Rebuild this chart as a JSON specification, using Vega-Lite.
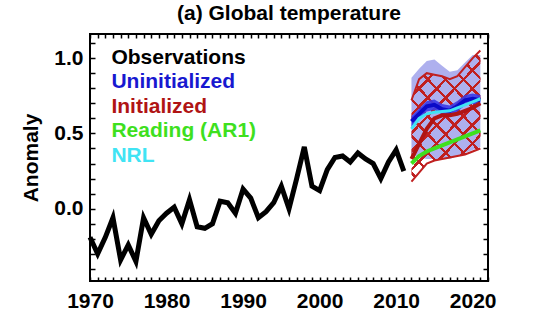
{
  "$schema": "https://vega.github.io/schema/vega-lite/v6.json",
  "width": 398,
  "height": 247,
  "autosize": {"type": "none"},
  "padding": {"left": 90, "top": 34, "right": 52, "bottom": 47},
  "title": {"text": "(a) Global temperature", "font": "Liberation Sans", "fontSize": 21, "fontWeight": "bold", "color": "black", "offset": 8, "anchor": "middle"},
  "config": {
    "view": {"stroke": "black", "strokeWidth": 2},
    "axis": {"grid": false, "domain": false, "labelFont": "Liberation Sans", "labelFontWeight": "bold", "labelFontSize": 21, "labelColor": "black", "tickColor": "black", "tickWidth": 1.5, "titleFont": "Liberation Sans", "titleFontWeight": "bold", "titleFontSize": 21, "titleColor": "black"}
  },
  "datasets": {
    "obs": [
      {"year": 1970, "v": -0.19}, {"year": 1971, "v": -0.30}, {"year": 1972, "v": -0.19}, {"year": 1973, "v": -0.06},
      {"year": 1974, "v": -0.34}, {"year": 1975, "v": -0.24}, {"year": 1976, "v": -0.35}, {"year": 1977, "v": -0.06},
      {"year": 1978, "v": -0.17}, {"year": 1979, "v": -0.08}, {"year": 1980, "v": -0.03}, {"year": 1981, "v": 0.01},
      {"year": 1982, "v": -0.10}, {"year": 1983, "v": 0.06}, {"year": 1984, "v": -0.12}, {"year": 1985, "v": -0.13},
      {"year": 1986, "v": -0.10}, {"year": 1987, "v": 0.05}, {"year": 1988, "v": 0.04}, {"year": 1989, "v": -0.03},
      {"year": 1990, "v": 0.13}, {"year": 1991, "v": 0.07}, {"year": 1992, "v": -0.06}, {"year": 1993, "v": -0.02},
      {"year": 1994, "v": 0.04}, {"year": 1995, "v": 0.15}, {"year": 1996, "v": 0.00}, {"year": 1997, "v": 0.20},
      {"year": 1998, "v": 0.41}, {"year": 1999, "v": 0.15}, {"year": 2000, "v": 0.12}, {"year": 2001, "v": 0.26},
      {"year": 2002, "v": 0.34}, {"year": 2003, "v": 0.35}, {"year": 2004, "v": 0.31}, {"year": 2005, "v": 0.37},
      {"year": 2006, "v": 0.33}, {"year": 2007, "v": 0.30}, {"year": 2008, "v": 0.20}, {"year": 2009, "v": 0.31},
      {"year": 2010, "v": 0.39}, {"year": 2011, "v": 0.25}
    ],
    "fc": [
      {"year": 2012, "ulo": 0.36, "uhi": 0.87, "ilo": 0.18, "ihi": 0.72, "unin": 0.58, "ubl": 0.545, "ubh": 0.615, "init": 0.33, "reading": 0.30, "nrl": 0.53},
      {"year": 2013, "ulo": 0.34, "uhi": 0.93, "ilo": 0.24, "ihi": 0.86, "unin": 0.63, "ubl": 0.595, "ubh": 0.665, "init": 0.43, "reading": 0.35, "nrl": 0.60},
      {"year": 2014, "ulo": 0.33, "uhi": 0.98, "ilo": 0.30, "ihi": 0.90, "unin": 0.68, "ubl": 0.645, "ubh": 0.715, "init": 0.53, "reading": 0.38, "nrl": 0.63},
      {"year": 2015, "ulo": 0.33, "uhi": 0.99, "ilo": 0.32, "ihi": 0.89, "unin": 0.69, "ubl": 0.655, "ubh": 0.725, "init": 0.60, "reading": 0.40, "nrl": 0.64},
      {"year": 2016, "ulo": 0.33, "uhi": 0.95, "ilo": 0.33, "ihi": 0.88, "unin": 0.66, "ubl": 0.625, "ubh": 0.695, "init": 0.62, "reading": 0.42, "nrl": 0.645},
      {"year": 2017, "ulo": 0.33, "uhi": 0.91, "ilo": 0.34, "ihi": 0.86, "unin": 0.65, "ubl": 0.615, "ubh": 0.685, "init": 0.62, "reading": 0.44, "nrl": 0.65},
      {"year": 2018, "ulo": 0.35, "uhi": 0.92, "ilo": 0.35, "ihi": 0.88, "unin": 0.68, "ubl": 0.645, "ubh": 0.715, "init": 0.63, "reading": 0.46, "nrl": 0.67},
      {"year": 2019, "ulo": 0.37, "uhi": 0.97, "ilo": 0.36, "ihi": 0.94, "unin": 0.72, "ubl": 0.685, "ubh": 0.755, "init": 0.65, "reading": 0.48, "nrl": 0.69},
      {"year": 2020, "ulo": 0.39, "uhi": 1.02, "ilo": 0.38, "ihi": 1.00, "unin": 0.73, "ubl": 0.695, "ubh": 0.765, "init": 0.67, "reading": 0.50, "nrl": 0.71},
      {"year": 2021, "ulo": 0.41, "uhi": 1.02, "ilo": 0.40, "ihi": 1.05, "unin": 0.72, "ubl": 0.685, "ubh": 0.755, "init": 0.70, "reading": 0.52, "nrl": 0.73}
    ],
    "labels": [
      {"label": "Observations", "x": 1972.8, "y": 1.0},
      {"label": "Uninitialized", "x": 1972.8, "y": 0.84},
      {"label": "Initialized", "x": 1972.8, "y": 0.677},
      {"label": "Reading (AR1)", "x": 1972.8, "y": 0.515},
      {"label": "NRL", "x": 1972.8, "y": 0.35}
    ]
  },
  "resolve": {"axis": {"x": "independent", "y": "independent"}},
  "layer": [
    {
      "data": {"name": "fc"},
      "mark": {"type": "area", "color": "#aeb0ee", "opacity": 1},
      "encoding": {
        "x": {"field": "year", "type": "quantitative", "scale": {"domain": [1970, 2022], "nice": false, "zero": false},
              "axis": {"orient": "bottom", "title": null, "values": [1970,1971,1972,1973,1974,1975,1976,1977,1978,1979,1980,1981,1982,1983,1984,1985,1986,1987,1988,1989,1990,1991,1992,1993,1994,1995,1996,1997,1998,1999,2000,2001,2002,2003,2004,2005,2006,2007,2008,2009,2010,2011,2012,2013,2014,2015,2016,2017,2018,2019,2020,2021,2022],
                       "labelExpr": "datum.value % 10 === 0 ? datum.value : ''", "tickSize": -4, "labelPadding": 13, "labelFlush": false, "labelOverlap": false}},
        "y": {"field": "ulo", "type": "quantitative", "scale": {"domain": [-0.48, 1.16], "nice": false, "zero": false},
              "axis": {"orient": "left", "title": "Anomaly", "titlePadding": 12, "values": [-0.4,-0.3,-0.2,-0.1,0,0.1,0.2,0.3,0.4,0.5,0.6,0.7,0.8,0.9,1.0,1.1],
                       "labelExpr": "abs(datum.value*2 - round(datum.value*2)) < 0.001 ? format(datum.value, '.1f') : ''", "tickSize": -5, "labelPadding": 12, "labelOverlap": false, "labelFlush": false}},
        "y2": {"field": "uhi"}
      }
    },
    {
      "data": {"name": "fc"},
      "mark": {"type": "area", "fill": {"gradient": "linear", "x1": 0, "y1": 0, "x2": 0.644, "y2": 1.192, "stops": [
        {"offset": 0, "color": "rgba(192,32,32,0)"},
        {"offset": 0.035, "color": "rgba(192,32,32,0)"}, {"offset": 0.035, "color": "#c02020"}, {"offset": 0.053, "color": "#c02020"}, {"offset": 0.053, "color": "rgba(192,32,32,0)"},
        {"offset": 0.126, "color": "rgba(192,32,32,0)"}, {"offset": 0.126, "color": "#c02020"}, {"offset": 0.144, "color": "#c02020"}, {"offset": 0.144, "color": "rgba(192,32,32,0)"},
        {"offset": 0.217, "color": "rgba(192,32,32,0)"}, {"offset": 0.217, "color": "#c02020"}, {"offset": 0.235, "color": "#c02020"}, {"offset": 0.235, "color": "rgba(192,32,32,0)"},
        {"offset": 0.308, "color": "rgba(192,32,32,0)"}, {"offset": 0.308, "color": "#c02020"}, {"offset": 0.326, "color": "#c02020"}, {"offset": 0.326, "color": "rgba(192,32,32,0)"},
        {"offset": 0.399, "color": "rgba(192,32,32,0)"}, {"offset": 0.399, "color": "#c02020"}, {"offset": 0.417, "color": "#c02020"}, {"offset": 0.417, "color": "rgba(192,32,32,0)"},
        {"offset": 0.490, "color": "rgba(192,32,32,0)"}, {"offset": 0.490, "color": "#c02020"}, {"offset": 0.508, "color": "#c02020"}, {"offset": 0.508, "color": "rgba(192,32,32,0)"},
        {"offset": 0.580, "color": "rgba(192,32,32,0)"}, {"offset": 0.580, "color": "#c02020"}, {"offset": 0.598, "color": "#c02020"}, {"offset": 0.598, "color": "rgba(192,32,32,0)"},
        {"offset": 0.671, "color": "rgba(192,32,32,0)"}, {"offset": 0.671, "color": "#c02020"}, {"offset": 0.689, "color": "#c02020"}, {"offset": 0.689, "color": "rgba(192,32,32,0)"},
        {"offset": 0.762, "color": "rgba(192,32,32,0)"}, {"offset": 0.762, "color": "#c02020"}, {"offset": 0.780, "color": "#c02020"}, {"offset": 0.780, "color": "rgba(192,32,32,0)"},
        {"offset": 0.853, "color": "rgba(192,32,32,0)"}, {"offset": 0.853, "color": "#c02020"}, {"offset": 0.871, "color": "#c02020"}, {"offset": 0.871, "color": "rgba(192,32,32,0)"},
        {"offset": 0.944, "color": "rgba(192,32,32,0)"}, {"offset": 0.944, "color": "#c02020"}, {"offset": 0.962, "color": "#c02020"}, {"offset": 0.962, "color": "rgba(192,32,32,0)"},
        {"offset": 1, "color": "rgba(192,32,32,0)"}
      ]}},
      "encoding": {
        "x": {"field": "year", "type": "quantitative", "axis": null},
        "y": {"field": "ilo", "type": "quantitative", "axis": null},
        "y2": {"field": "ihi"}
      }
    },
    {
      "data": {"name": "fc"},
      "mark": {"type": "area", "fill": {"gradient": "linear", "x1": 0, "y1": 1, "x2": 0.644, "y2": -0.192, "stops": [
        {"offset": 0, "color": "rgba(192,32,32,0)"},
        {"offset": 0.035, "color": "rgba(192,32,32,0)"}, {"offset": 0.035, "color": "#c02020"}, {"offset": 0.053, "color": "#c02020"}, {"offset": 0.053, "color": "rgba(192,32,32,0)"},
        {"offset": 0.126, "color": "rgba(192,32,32,0)"}, {"offset": 0.126, "color": "#c02020"}, {"offset": 0.144, "color": "#c02020"}, {"offset": 0.144, "color": "rgba(192,32,32,0)"},
        {"offset": 0.217, "color": "rgba(192,32,32,0)"}, {"offset": 0.217, "color": "#c02020"}, {"offset": 0.235, "color": "#c02020"}, {"offset": 0.235, "color": "rgba(192,32,32,0)"},
        {"offset": 0.308, "color": "rgba(192,32,32,0)"}, {"offset": 0.308, "color": "#c02020"}, {"offset": 0.326, "color": "#c02020"}, {"offset": 0.326, "color": "rgba(192,32,32,0)"},
        {"offset": 0.399, "color": "rgba(192,32,32,0)"}, {"offset": 0.399, "color": "#c02020"}, {"offset": 0.417, "color": "#c02020"}, {"offset": 0.417, "color": "rgba(192,32,32,0)"},
        {"offset": 0.490, "color": "rgba(192,32,32,0)"}, {"offset": 0.490, "color": "#c02020"}, {"offset": 0.508, "color": "#c02020"}, {"offset": 0.508, "color": "rgba(192,32,32,0)"},
        {"offset": 0.580, "color": "rgba(192,32,32,0)"}, {"offset": 0.580, "color": "#c02020"}, {"offset": 0.598, "color": "#c02020"}, {"offset": 0.598, "color": "rgba(192,32,32,0)"},
        {"offset": 0.671, "color": "rgba(192,32,32,0)"}, {"offset": 0.671, "color": "#c02020"}, {"offset": 0.689, "color": "#c02020"}, {"offset": 0.689, "color": "rgba(192,32,32,0)"},
        {"offset": 0.762, "color": "rgba(192,32,32,0)"}, {"offset": 0.762, "color": "#c02020"}, {"offset": 0.780, "color": "#c02020"}, {"offset": 0.780, "color": "rgba(192,32,32,0)"},
        {"offset": 0.853, "color": "rgba(192,32,32,0)"}, {"offset": 0.853, "color": "#c02020"}, {"offset": 0.871, "color": "#c02020"}, {"offset": 0.871, "color": "rgba(192,32,32,0)"},
        {"offset": 0.944, "color": "rgba(192,32,32,0)"}, {"offset": 0.944, "color": "#c02020"}, {"offset": 0.962, "color": "#c02020"}, {"offset": 0.962, "color": "rgba(192,32,32,0)"},
        {"offset": 1, "color": "rgba(192,32,32,0)"}
      ]}},
      "encoding": {
        "x": {"field": "year", "type": "quantitative", "axis": null},
        "y": {"field": "ilo", "type": "quantitative", "axis": null},
        "y2": {"field": "ihi"}
      }
    },
    {
      "data": {"name": "fc"},
      "mark": {"type": "line", "color": "#c02020", "strokeWidth": 2},
      "encoding": {
        "x": {"field": "year", "type": "quantitative", "axis": null},
        "y": {"field": "ilo", "type": "quantitative", "axis": null}
      }
    },
    {
      "data": {"name": "fc"},
      "mark": {"type": "line", "color": "#c02020", "strokeWidth": 2},
      "encoding": {
        "x": {"field": "year", "type": "quantitative", "axis": null},
        "y": {"field": "ihi", "type": "quantitative", "axis": null}
      }
    },
    {
      "data": {"name": "fc"},
      "mark": {"type": "area", "color": "#3a3ae6", "opacity": 0.9},
      "encoding": {
        "x": {"field": "year", "type": "quantitative", "axis": null},
        "y": {"field": "ubl", "type": "quantitative", "axis": null},
        "y2": {"field": "ubh"}
      }
    },
    {
      "data": {"name": "fc"},
      "mark": {"type": "line", "color": "#0a0ac8", "strokeWidth": 4},
      "encoding": {
        "x": {"field": "year", "type": "quantitative", "axis": null},
        "y": {"field": "unin", "type": "quantitative", "axis": null}
      }
    },
    {
      "data": {"name": "fc"},
      "mark": {"type": "line", "color": "#b01414", "strokeWidth": 4},
      "encoding": {
        "x": {"field": "year", "type": "quantitative", "axis": null},
        "y": {"field": "init", "type": "quantitative", "axis": null}
      }
    },
    {
      "data": {"name": "fc"},
      "mark": {"type": "line", "color": "#40e4f4", "strokeWidth": 3},
      "encoding": {
        "x": {"field": "year", "type": "quantitative", "axis": null},
        "y": {"field": "nrl", "type": "quantitative", "axis": null}
      }
    },
    {
      "data": {"name": "fc"},
      "mark": {"type": "line", "color": "#3ee01e", "strokeWidth": 4},
      "encoding": {
        "x": {"field": "year", "type": "quantitative", "axis": null},
        "y": {"field": "reading", "type": "quantitative", "axis": null}
      }
    },
    {
      "mark": {"type": "rule", "color": "black", "strokeWidth": 1.2},
      "encoding": {
        "y": {"datum": 0, "type": "quantitative", "axis": null}
      }
    },
    {
      "data": {"name": "obs"},
      "mark": {"type": "line", "color": "black", "strokeWidth": 5, "strokeJoin": "miter"},
      "encoding": {
        "x": {"field": "year", "type": "quantitative",
              "axis": {"orient": "top", "title": null, "labels": false, "values": [1970,1971,1972,1973,1974,1975,1976,1977,1978,1979,1980,1981,1982,1983,1984,1985,1986,1987,1988,1989,1990,1991,1992,1993,1994,1995,1996,1997,1998,1999,2000,2001,2002,2003,2004,2005,2006,2007,2008,2009,2010,2011,2012,2013,2014,2015,2016,2017,2018,2019,2020,2021,2022], "tickSize": -4}},
        "y": {"field": "v", "type": "quantitative",
              "axis": {"orient": "right", "title": null, "labels": false, "values": [-0.4,-0.3,-0.2,-0.1,0,0.1,0.2,0.3,0.4,0.5,0.6,0.7,0.8,0.9,1.0,1.1], "tickSize": -5}}
      }
    },
    {
      "data": {"name": "labels"},
      "mark": {"type": "text", "align": "left", "baseline": "middle", "font": "Liberation Sans", "fontSize": 21, "fontWeight": "bold"},
      "encoding": {
        "x": {"field": "x", "type": "quantitative", "axis": null},
        "y": {"field": "y", "type": "quantitative", "axis": null},
        "text": {"field": "label"},
        "color": {"field": "label", "type": "nominal", "legend": null,
                  "scale": {"domain": ["Observations", "Uninitialized", "Initialized", "Reading (AR1)", "NRL"], "range": ["#000000", "#1818d0", "#b01414", "#3ee01e", "#40e4f4"]}}
      }
    }
  ]
}
